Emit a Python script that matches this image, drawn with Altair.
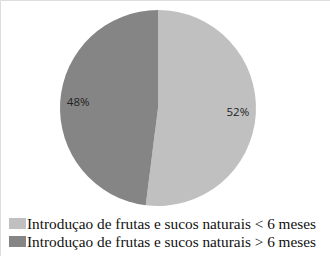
import altair as alt
import pandas as pd

categories = ["Introduçao de frutas e sucos naturais < 6 meses",
              "Introduçao de frutas e sucos naturais > 6 meses"]
values = [52, 48]
labels = ["52%", "48%"]
colors = ["#c0c0c0", "#858585"]

df = pd.DataFrame({"cat": categories, "val": values, "lab": labels, "order": [0, 1]})

base = alt.Chart(df).encode(
    theta=alt.Theta("val:Q", stack=True),
    order=alt.Order("order:Q"),
    x=alt.value(158), y=alt.value(108),
)

arc = base.mark_arc(outerRadius=98).encode(
    color=alt.Color("cat:N", sort=categories,
                    scale=alt.Scale(domain=categories, range=colors),
                    legend=alt.Legend(title=None, orient="none", legendX=9, legendY=215,
                                      symbolType="M-1,-0.65L1,-0.65L1,0.65L-1,0.65Z",
                                      symbolSize=289, symbolStrokeWidth=0,
                                      labelFont="Liberation Serif", labelFontSize=15.3,
                                      labelColor="#111", labelLimit=400, rowPadding=1,
                                      symbolOffset=0, labelOffset=1))
)

text = base.mark_text(radius=80, font="Open Sans", fontSize=11.5, color="#222").encode(
    text="lab:N"
)

chart = (arc + text).properties(
    width=330, height=256, autosize=alt.AutoSizeParams(type="none"), padding=0
).configure_view(stroke=None).configure(background="white")

chart.save("out.html", embed_options={"renderer": "svg", "actions": False})
